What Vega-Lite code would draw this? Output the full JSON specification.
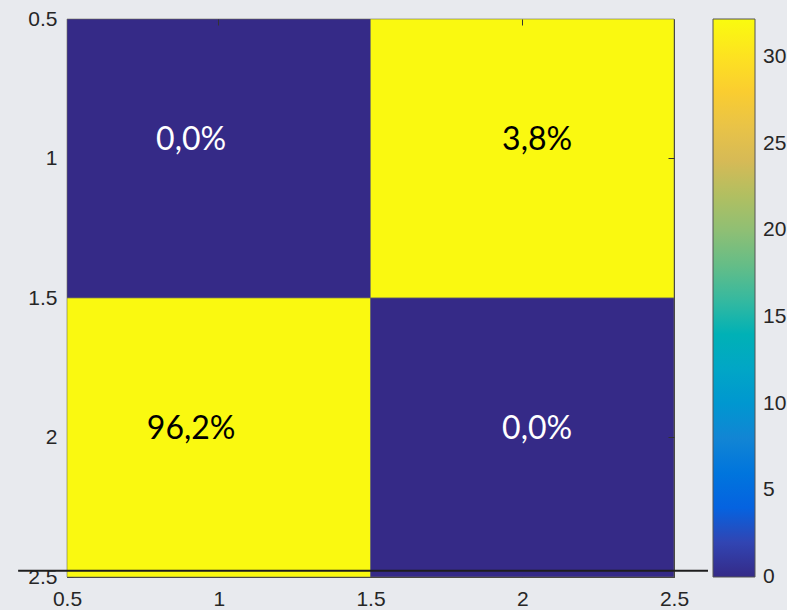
{
  "$schema": "https://vega.github.io/schema/vega-lite/v6.json",
  "width": 607,
  "height": 558,
  "autosize": {"type": "none"},
  "padding": {"left": 67, "top": 19, "right": 113, "bottom": 33},
  "background": "#E8EAEE",
  "config": {
    "font": "Liberation Sans",
    "view": {"stroke": "#3c3c3c", "strokeWidth": 1}
  },
  "datasets": {
    "cells": [
      {"row": 1, "col": 1, "value": 0, "label": "0,0%", "lx": 0.909, "ly": 0.934},
      {"row": 1, "col": 2, "value": 32, "label": "3,8%", "lx": 2.049, "ly": 0.934},
      {"row": 2, "col": 1, "value": 32, "label": "96,2%", "lx": 0.909, "ly": 1.97},
      {"row": 2, "col": 2, "value": 0, "label": "0,0%", "lx": 2.049, "ly": 1.97}
    ],
    "underline": [
      {"x0": 0.339, "x1": 2.612, "y": 2.478}
    ]
  },
  "layer": [
    {
      "data": {"name": "cells"},
      "mark": {"type": "rect", "stroke": "#6f6f5a", "strokeWidth": 1, "strokeOpacity": 0.6},
      "encoding": {
        "x": {
          "field": "col", "type": "ordinal",
          "scale": {"paddingInner": 0, "paddingOuter": 0},
          "axis": {"orient": "top", "labels": false, "domain": false, "tickSize": -6, "tickColor": "#333333", "title": null}
        },
        "y": {
          "field": "row", "type": "ordinal",
          "scale": {"paddingInner": 0, "paddingOuter": 0},
          "axis": {"orient": "right", "labels": false, "domain": false, "tickSize": -6, "tickColor": "#333333", "title": null}
        },
        "color": {
          "field": "value", "type": "quantitative",
          "scale": {
            "domain": [0, 32.2],
            "range": ["#352a87", "#0363e1", "#1485d4", "#06a7c6", "#38b99e", "#92bf73", "#d9ba56", "#fcce2e", "#f9fb0e"]
          },
          "legend": {
            "orient": "none",
            "legendX": 646,
            "legendY": 0,
            "direction": "vertical",
            "title": null,
            "gradientLength": 558,
            "gradientThickness": 42,
            "gradientStrokeColor": "#555555",
            "gradientStrokeWidth": 1,
            "values": [0, 5, 10, 15, 20, 25, 30],
            "labelFontSize": 21,
            "labelColor": "#262626",
            "labelOffset": 8,
            "labelOverlap": false,
            "encode": {
              "labels": {"update": {"baseline": {"value": "middle"}}}
            }
          }
        }
      }
    },
    {
      "layer": [
        {
          "data": {"name": "cells"},
          "mark": {"type": "text", "font": "Lato", "fontSize": 32, "baseline": "middle", "align": "center"},
          "encoding": {
            "x": {
              "field": "lx", "type": "quantitative",
              "scale": {"domain": [0.5, 2.5], "nice": false, "zero": false},
              "axis": {
                "values": [0.5, 1, 1.5, 2, 2.5], "format": "~g", "title": null,
                "grid": false, "domain": false, "tickSize": -6, "tickColor": "#333333",
                "labelFontSize": 21, "labelColor": "#262626", "labelPadding": 17,
                "labelFlush": false, "labelOverlap": false
              }
            },
            "y": {
              "field": "ly", "type": "quantitative",
              "scale": {"domain": [0.5, 2.5], "nice": false, "zero": false, "reverse": true},
              "axis": {
                "values": [0.5, 1, 1.5, 2, 2.5], "format": "~g", "title": null,
                "grid": false, "domain": false, "tickSize": -6, "tickColor": "#333333",
                "labelFontSize": 21, "labelColor": "#262626", "labelPadding": 16,
                "labelFlush": false, "labelOverlap": false
              }
            },
            "text": {"field": "label"},
            "color": {
              "condition": {"test": "datum.value > 16", "value": "#000000"},
              "value": "#ffffff"
            }
          }
        },
        {
          "data": {"name": "underline"},
          "mark": {"type": "rule", "color": "#1e1e1e", "strokeWidth": 2, "clip": false},
          "encoding": {
            "x": {"field": "x0", "type": "quantitative"},
            "x2": {"field": "x1"},
            "y": {"field": "y", "type": "quantitative"}
          }
        }
      ]
    }
  ],
  "resolve": {"scale": {"x": "independent", "y": "independent", "color": "independent"}}
}
